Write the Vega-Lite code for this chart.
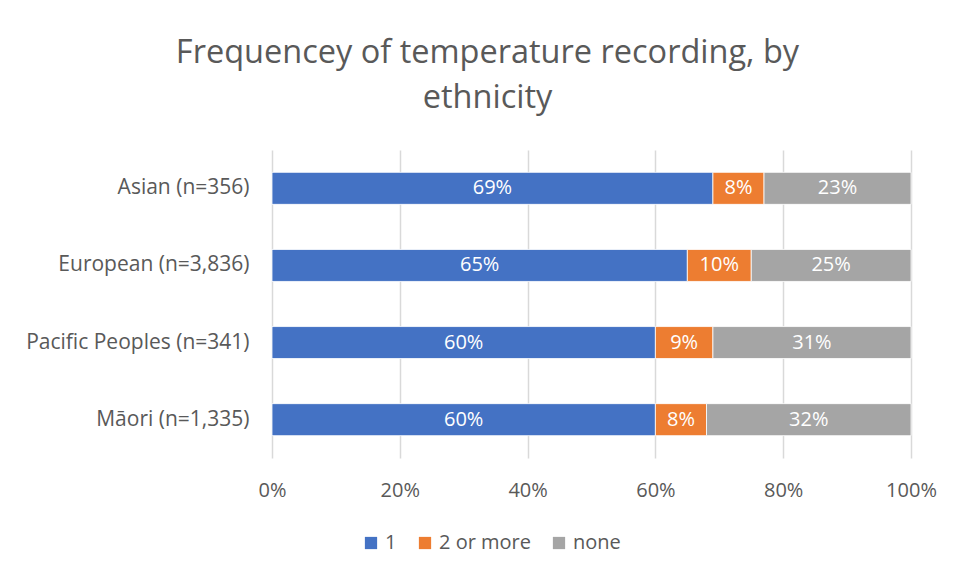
{
  "$schema": "https://vega.github.io/schema/vega-lite/v6.json",
  "width": 639,
  "height": 308,
  "autosize": {"type": "none"},
  "padding": {"left": 272, "top": 150, "right": 44, "bottom": 119},
  "background": "white",
  "title": {
    "text": ["Frequencey of temperature recording, by", "ethnicity"],
    "fontSize": 32.5,
    "fontWeight": "normal",
    "color": "#595959",
    "lineHeight": 45,
    "anchor": "middle",
    "dx": -104,
    "offset": 36
  },
  "data": {
    "values": [
      {"ethnicity": "Asian (n=356)", "category": "1", "pct": 0.69},
      {"ethnicity": "Asian (n=356)", "category": "2 or more", "pct": 0.08},
      {"ethnicity": "Asian (n=356)", "category": "none", "pct": 0.23},
      {"ethnicity": "European (n=3,836)", "category": "1", "pct": 0.65},
      {"ethnicity": "European (n=3,836)", "category": "2 or more", "pct": 0.10},
      {"ethnicity": "European (n=3,836)", "category": "none", "pct": 0.25},
      {"ethnicity": "Pacific Peoples (n=341)", "category": "1", "pct": 0.60},
      {"ethnicity": "Pacific Peoples (n=341)", "category": "2 or more", "pct": 0.09},
      {"ethnicity": "Pacific Peoples (n=341)", "category": "none", "pct": 0.31},
      {"ethnicity": "Māori (n=1,335)", "category": "1", "pct": 0.60},
      {"ethnicity": "Māori (n=1,335)", "category": "2 or more", "pct": 0.08},
      {"ethnicity": "Māori (n=1,335)", "category": "none", "pct": 0.32}
    ]
  },
  "transform": [
    {
      "stack": "pct",
      "groupby": ["ethnicity"],
      "sort": [{"field": "category", "order": "ascending"}],
      "as": ["x0", "x1"]
    },
    {"calculate": "(datum.x0 + datum.x1) / 2", "as": "xmid"}
  ],
  "encoding": {
    "y": {
      "field": "ethnicity",
      "type": "nominal",
      "sort": ["Asian (n=356)", "European (n=3,836)", "Pacific Peoples (n=341)", "Māori (n=1,335)"],
      "scale": {"paddingInner": 0.585, "paddingOuter": 0.29},
      "axis": {
        "title": null,
        "domain": false,
        "ticks": false,
        "labelFontSize": 21,
        "labelColor": "#595959",
        "labelPadding": 23,
        "labelLimit": 300
      }
    }
  },
  "layer": [
    {
      "mark": {"type": "bar", "stroke": "white", "strokeWidth": 0.8},
      "encoding": {
        "x": {
          "field": "x0",
          "type": "quantitative",
          "scale": {"domain": [0, 1], "nice": false},
          "axis": {
            "title": null,
            "format": ".0%",
            "values": [0, 0.2, 0.4, 0.6, 0.8, 1],
            "domain": false,
            "ticks": false,
            "grid": true,
            "gridColor": "#d9d9d9",
            "gridWidth": 1.5,
            "labelFlush": false,
            "labelFontSize": 20,
            "labelColor": "#595959",
            "labelPadding": 22
          }
        },
        "x2": {"field": "x1"},
        "color": {
          "field": "category",
          "type": "nominal",
          "scale": {
            "domain": ["1", "2 or more", "none"],
            "range": ["#4472C4", "#ED7D31", "#A5A5A5"]
          },
          "legend": {
            "title": null,
            "orient": "none",
            "direction": "horizontal",
            "legendX": 89,
            "legendY": 383,
            "symbolType": "square",
            "symbolSize": 150,
            "symbolStrokeWidth": 0,
            "symbolOpacity": 1,
            "labelFontSize": 20,
            "labelColor": "#595959",
            "labelOffset": 4,
            "columnPadding": 18
          }
        }
      }
    },
    {
      "mark": {"type": "text", "color": "white", "fontSize": 20, "baseline": "middle", "align": "center"},
      "encoding": {
        "x": {"field": "xmid", "type": "quantitative"},
        "text": {"field": "pct", "type": "quantitative", "format": ".0%"}
      }
    }
  ],
  "config": {
    "font": "Open Sans, sans-serif",
    "view": {"stroke": null}
  }
}
